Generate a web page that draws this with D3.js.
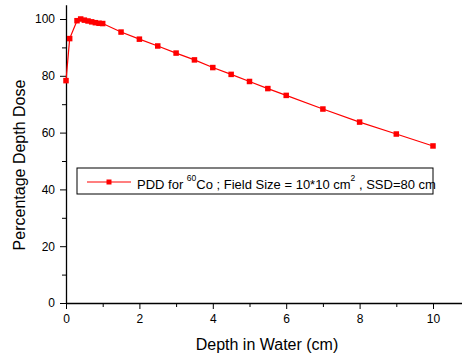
<!DOCTYPE html>
<html>
<head>
<meta charset="utf-8">
<script src="https://cdn.jsdelivr.net/npm/d3@7"></script>
<style>
  body { margin: 0; background: #fff; }
  svg { display: block; font-family: "Liberation Sans", Arial, sans-serif; }
</style>
</head>
<body>
<div id="chart"></div>
<script>
// depth (cm) and percentage depth dose
const depth = [0, 0.1, 0.3, 0.4, 0.5, 0.6, 0.7, 0.8, 0.9, 1.0, 1.5, 2, 2.5, 3, 3.5, 4, 4.5, 5, 5.5, 6, 7, 8, 9, 10];
const pdd = [78.3, 93.1, 99.4, 100, 99.6, 99.3, 99.0, 98.7, 98.5, 98.4, 95.4, 92.9, 90.5, 88.0, 85.6, 82.9, 80.5, 78.0, 75.5, 73.1, 68.3, 63.7, 59.5, 55.3];
const xTicks = [0, 2, 4, 6, 8, 10];
const xMinor = [1, 3, 5, 7, 9];
const yTicks = [0, 20, 40, 60, 80, 100];
const yMinor = [10, 30, 50, 70, 90];

const width = 462, height = 355;
const margin = { top: 5, left: 66, right: 0, bottom: 52 };
const axisY = 303;

const svg = d3.select("#chart").append("svg")
  .attr("width", width)
  .attr("height", height);

const x = d3.scaleLinear().domain([0, 10.8]).range([margin.left, margin.left + 36.7 * 10.8]);
const y = d3.scaleLinear().domain([0, 105]).range([axisY, axisY - 2.84 * 105]);

// minor ticks
svg.append("g")
  .attr("transform", `translate(0,${axisY})`)
  .call(d3.axisBottom(x).tickValues(xMinor).tickSize(4).tickFormat(""))
  .call(g => g.select(".domain").remove());
svg.append("g")
  .attr("transform", `translate(${margin.left},0)`)
  .call(d3.axisLeft(y).tickValues(yMinor).tickSize(4).tickFormat(""))
  .call(g => g.select(".domain").remove());

// x axis
const xAxis = svg.append("g")
  .attr("transform", `translate(0,${axisY})`)
  .call(d3.axisBottom(x).tickValues(xTicks).tickSize(6).tickSizeOuter(0).tickPadding(5));
xAxis.selectAll("text").attr("font-size", 12).attr("fill", "#000").attr("font-family", "Liberation Sans, Arial, sans-serif");

// y axis
const yAxis = svg.append("g")
  .attr("transform", `translate(${margin.left},0)`)
  .call(d3.axisLeft(y).tickValues(yTicks).tickSize(6).tickSizeOuter(0).tickPadding(5));
yAxis.selectAll("text").attr("font-size", 12).attr("fill", "#000").attr("font-family", "Liberation Sans, Arial, sans-serif");

svg.selectAll(".domain").attr("stroke", "#000").attr("stroke-width", 1.3);
svg.selectAll(".tick line").attr("stroke", "#000").attr("stroke-width", 1);

// axis titles
svg.append("text")
  .attr("x", 267)
  .attr("y", 350)
  .attr("text-anchor", "middle")
  .attr("font-size", 16)
  .text("Depth in Water (cm)");

svg.append("text")
  .attr("transform", "translate(25,165) rotate(-90)")
  .attr("text-anchor", "middle")
  .attr("font-size", 16)
  .text("Percentage Depth Dose");

// line + markers
const line = d3.line().x((d, i) => x(depth[i])).y(d => y(d));
svg.append("path")
  .datum(pdd)
  .attr("fill", "none")
  .attr("stroke", "#ff0000")
  .attr("stroke-width", 1.2)
  .attr("d", line);

svg.append("g")
  .selectAll("rect")
  .data(pdd)
  .join("rect")
  .attr("x", (d, i) => x(depth[i]) - 2.75)
  .attr("y", d => y(d) - 2.75)
  .attr("width", 5.5)
  .attr("height", 5.5)
  .attr("fill", "#ff0000");

// legend
const legend = svg.append("g").attr("transform", "translate(77,168)");
legend.append("rect")
  .attr("width", 356)
  .attr("height", 26)
  .attr("fill", "#fff")
  .attr("stroke", "#000")
  .attr("stroke-width", 1);
legend.append("line")
  .attr("x1", 10).attr("x2", 54)
  .attr("y1", 14).attr("y2", 14)
  .attr("stroke", "#ff0000")
  .attr("stroke-width", 1.2);
legend.append("rect")
  .attr("x", 29.5).attr("y", 11.5)
  .attr("width", 5).attr("height", 5)
  .attr("fill", "#ff0000");

const lt = legend.append("text")
  .attr("x", 60)
  .attr("y", 21)
  .attr("font-size", 13);
lt.append("tspan").text("PDD for ");
lt.append("tspan").attr("font-size", 8.5).attr("dy", -8).text("60");
lt.append("tspan").attr("dy", 8).text("Co ; Field Size = 10*10 cm");
lt.append("tspan").attr("font-size", 8.5).attr("dy", -8).text("2");
lt.append("tspan").attr("dy", 8).text(" , SSD=80 cm");
</script>
</body>
</html>
